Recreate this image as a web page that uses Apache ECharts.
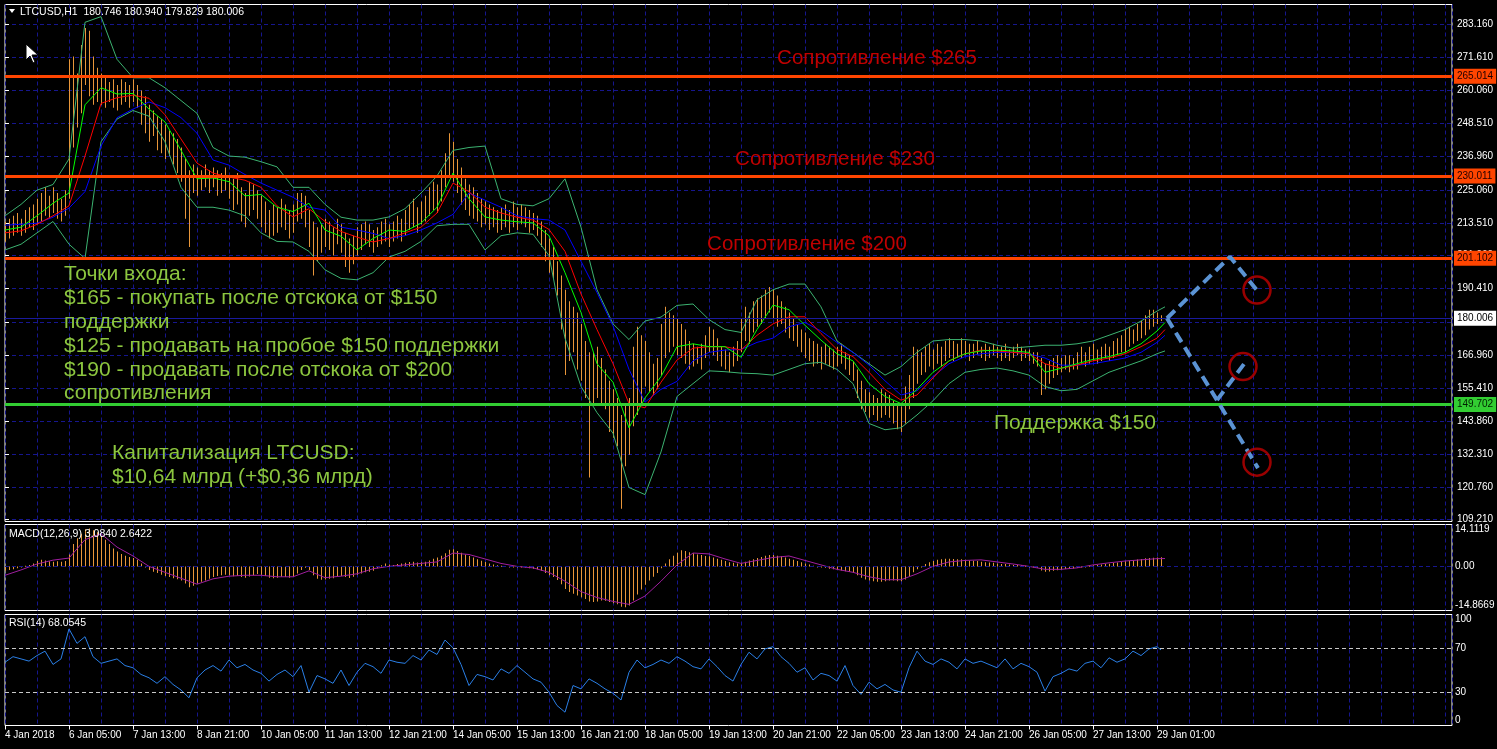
<!DOCTYPE html>
<html><head><meta charset="utf-8">
<script src="https://cdn.jsdelivr.net/npm/echarts@6/dist/echarts.min.js"></script>
<style>html,body{margin:0;padding:0;background:#000;overflow:hidden}#c{width:1497px;height:749px}</style>
</head><body><div id="c"></div>
<script>
// ---------- DATA ----------
const timeLabels = ['4 Jan 2018','6 Jan 05:00','7 Jan 13:00','8 Jan 21:00','10 Jan 05:00','11 Jan 13:00','12 Jan 21:00','14 Jan 05:00','15 Jan 13:00','16 Jan 21:00','18 Jan 05:00','19 Jan 13:00','20 Jan 21:00','22 Jan 05:00','23 Jan 13:00','24 Jan 21:00','26 Jan 05:00','27 Jan 13:00','29 Jan 01:00'];
const priceTicks = [109.21,120.76,132.31,143.86,155.41,166.96,178.51,190.41,201.96,213.51,225.06,236.96,248.51,260.06,271.61,283.16];
const macdTicks = [-14.8669, 0, 14.1119];
const rsiTicks = [0, 30, 70, 100];

// 2-hour price bars [low, high]
const priceBars = [
[207,214],[208,215],[209,216],[210,217],[209,215],[210,218],[212,219],[211,220],[213,222],[214,224],
[216,226],[215,223],[217,226],[215,224],[214,222],[216,225],[222,271],[240,272],[247,266],[252,276],
[262,282],[258,281],[255,272],[256,268],[255,266],[254,265],[256,263],[254,264],[253,262],[255,264],
[256,263],[254,262],[256,264],[254,262],[248,260],[245,258],[242,255],[244,253],[239,251],[238,250],
[236,248],[237,246],[234,245],[231,243],[228,240],[215,236],[205,232],[224,234],[223,233],[225,232],
[226,234],[224,232],[226,233],[223,232],[224,231],[225,233],[222,230],[218,229],[220,231],[214,226],
[212,224],[216,228],[218,227],[215,225],[212,223],[210,221],[208,218],[209,220],[210,219],[212,222],
[211,220],[208,218],[210,220],[214,224],[215,224],[212,223],[205,218],[195,214],[200,212],[203,213],
[205,215],[204,214],[202,212],[206,215],[203,213],[198,210],[196,208],[199,209],[202,212],[204,213],
[206,214],[205,213],[203,211],[205,212],[206,214],[207,215],[205,213],[207,214],[208,216],[207,215],
[209,218],[211,220],[212,222],[210,219],[213,221],[214,223],[216,226],[218,228],[217,227],[221,232],
[226,238],[230,245],[228,242],[224,236],[220,233],[218,229],[216,227],[215,226],[214,224],[212,222],
[213,221],[211,220],[212,219],[210,218],[211,219],[212,220],[210,218],[212,221],[211,219],[213,220],
[212,219],[210,218],[211,217],[209,216],[205,214],[200,211],[196,208],[194,205],[188,200],[176,195],
[160,190],[165,186],[168,184],[162,182],[158,178],[152,172],[124,168],[150,168],[152,170],[150,166],
[148,162],[140,158],[138,155],[135,152],[113,146],[128,150],[132,152],[142,170],[146,177],[150,174],
[156,172],[154,168],[153,164],[155,166],[160,178],[166,184],[168,182],[170,181],[167,180],[166,178],
[164,176],[162,172],[163,171],[164,170],[162,171],[166,174],[168,177],[167,176],[165,173],[163,170],
[162,169],[161,168],[163,170],[165,172],[168,180],[172,184],[171,182],[175,186],[177,187],[178,188],
[180,190],[182,191],[180,190],[177,188],[178,186],[175,184],[173,182],[172,180],[170,178],[168,176],
[166,175],[165,173],[163,172],[164,171],[162,170],[164,171],[163,170],[162,169],[163,170],[164,171],
[162,168],[160,167],[158,165],[152,162],[148,158],[147,155],[145,154],[146,153],[144,152],[145,155],
[146,154],[145,153],[143,151],[141,150],[140,149],[143,156],[148,160],[152,170],[157,169],[160,168],
[161,170],[163,171],[162,169],[164,171],[163,170],[165,172],[166,173],[165,172],[166,171],[166,173],
[167,172],[165,171],[166,171],[167,172],[166,170],[165,171],[166,170],[167,171],[166,170],[165,170],
[166,171],[165,169],[166,170],[167,171],[165,170],[166,169],[165,169],[164,168],[163,168],[153,166],
[155,164],[157,165],[159,166],[160,167],[161,166],[162,167],[161,167],[162,166],[162,168],[164,170],
[163,168],[164,170],[165,171],[164,169],[165,170],[166,171],[165,170],[166,172],[167,173],[168,174],
[168,176],[170,177],[171,176],[172,178],[173,179],[174,181],[176,183],[177,183],[178,182],[179,181]
];

// indicator lines sampled every 8 hours (last point at hour 580)
const maFast = [211,212,216,220.4,224,255,261,258.8,259,253.5,249,239,229,229.3,228,223,223.5,219,217.5,220.4,211,208.8,204,208,211,210.5,213.4,219,231,222,215.6,214.5,213.9,213.5,209,196,182,164,157.5,141.5,152,159.5,170,171,170,170,166.3,176,184.6,183,177.5,172.3,167.5,165,157,152.5,150,155,161,165,167.5,168.5,168.8,168.5,168,161,162.4,164,165.5,166.5,168,171,175.5,178.5];
const maMid = [210,210.7,213,216,219.5,237,255.5,257.5,258.4,257.3,251.5,243,234.5,231,229.6,228.5,226,219.5,215.6,218.5,214,210.5,208.5,206.8,208,210,212,217,227.5,224.5,219,217,215.5,214.5,211.2,203.5,188.5,176,164,150,148.5,157.5,165.3,169.5,170,170,168.8,174,178,180.5,180.5,174.6,169,166.5,161,155,151.2,153,159,165,167.5,168.8,168.5,168,167.5,164,162.4,163.5,165,166,167.5,170,173,176];
const maSlow = [212.7,213,213.4,215.5,218.7,224.5,240.5,250.5,253.5,256,254,250.5,245,235.6,233.8,230.5,227.5,225,222.5,219,218,212,211,209.8,208,209,211,213.5,216.5,224,221.5,219,216,215,214.5,211,200,189,177.3,162,150.5,155,157.8,165,168,168.8,169,171.5,173,177,178.5,175.5,171.5,168,163.5,158,153,154.5,159.5,164,166.5,167.5,168,168,167.5,166,163.5,163.5,164,165,166,168,171.5,174];
const bbUpper = [216,220,225,227,236,284,286,271,264.5,264.5,261,256.5,252,240,237,236.6,235,233.2,226,226,220,215.5,214.5,214.5,215.6,218.5,224,230,239,240,240.5,222,220,219.5,222,229,212,190,178,172.5,179,180.4,184.5,185,179.5,176,175,186.5,190,192,192,184,172,168,164,160,163,168,172,172.5,172.5,172,170.5,169.5,170,170.5,170.5,171,172,174,176,179,182.5,184];
const bbLower = [204,206,210,214,206,201,242,250,253,251,242,226,219,219,218,216,210,207,206.8,203.5,197,194,193.5,196,201.5,203.5,207,212.5,213,213,204,209,210,209.5,202,173,156,146.8,139.6,120.5,118,133,152.5,157,161.5,161.2,160.7,160.5,160,162,164,164.5,162,157,143,140.8,141.5,146,151,157,161,162,162.5,161.5,160,156,154.5,155,158,161,163,165,167.5,168.5];

// MACD histogram every 2 hours, signal every 8 hours
const macdHist = [
-1.5,-1.2,-1,-0.6,-0.3,0.2,0.5,1.0,1.8,2.2,
2.0,1.7,1.6,1.7,1.6,1.8,4.0,7.5,9.5,11,
12.5,12.8,12.2,11.5,10,9,7.5,6,5,4.2,
3.6,3.2,2.8,2.2,1.0,0.0,-1.2,-1.8,-2.2,-2.8,
-3.2,-3.6,-4,-4.3,-4.8,-5.8,-7,-6.5,-5.8,-5.2,
-4.8,-4.2,-3.6,-3.2,-3.0,-2.8,-3.0,-3.3,-3.2,-3.6,
-3.8,-3.4,-3.0,-2.6,-2.8,-3.2,-3.8,-4.0,-3.8,-3.5,
-3.6,-3.8,-3.4,-2.4,-1.2,-0.5,-1.2,-3.0,-4.2,-4.5,
-4.4,-4.2,-4.0,-3.5,-3.2,-3.6,-3.9,-3.5,-2.8,-2.4,
-2.0,-1.8,-1.5,-0.6,0.4,1.0,0.6,0.5,0.8,1.0,
1.2,1.5,1.6,1.3,1.4,1.6,2.0,2.6,3.0,3.6,
4.4,5.6,5.8,5.2,4.6,4.0,3.5,3.0,2.4,1.9,
1.5,1.0,0.6,0.4,0.2,0.1,-0.2,-0.1,-0.3,-0.2,
-0.4,-0.6,-0.8,-1.0,-1.5,-2.2,-3.0,-3.6,-4.6,-6.0,
-7.6,-8.6,-9.2,-9.8,-10.4,-11.0,-11.8,-12.0,-11.8,-11.5,
-11.6,-12.0,-12.4,-12.8,-13.6,-13.8,-13.2,-11.5,-9.5,-7.8,
-6.2,-4.8,-3.5,-2.2,-0.6,1.0,2.4,3.6,4.6,5.4,
5.2,4.8,4.4,4.0,3.8,3.5,3.4,3.0,2.6,2.2,
1.8,1.4,1.2,1.0,1.2,1.6,2.0,2.4,2.8,3.2,
3.6,3.8,3.8,3.6,3.4,3.0,2.6,2.2,1.8,1.4,
1.0,0.6,0.2,0.0,-0.3,-0.5,-0.8,-1.0,-1.2,-1.4,
-1.6,-1.8,-2.2,-3.0,-3.8,-4.4,-4.8,-5.0,-5.2,-5.2,
-5.0,-4.8,-4.8,-5.0,-5.0,-4.4,-3.4,-2.0,-1.0,0.0,
0.8,1.4,1.8,2.2,2.4,2.6,2.6,2.5,2.4,2.4,
2.2,2.0,1.9,1.8,1.6,1.4,1.3,1.2,1.0,0.8,
0.8,0.6,0.5,0.5,0.4,0.2,0.0,-0.2,-0.5,-1.4,
-1.8,-1.7,-1.5,-1.3,-1.1,-0.9,-0.8,-0.7,-0.5,-0.2,
0.0,0.2,0.4,0.5,0.6,0.8,0.9,1.1,1.3,1.5,
1.7,1.9,2.1,2.3,2.5,2.7,2.8,2.9,3.0,3.084
];
const macdSignal = [-3,-1.2,0.8,2.1,2.8,9,11,6.5,3.5,0,-2,-4,-6,-4.2,-3.3,-3,-3,-3.5,-3.5,-1.5,-3.8,-3.3,-2.5,-0.8,0,0.5,1,1.5,4.5,4,2.5,1,0,-0.5,-2,-5,-8.5,-10.5,-11.8,-12.8,-10,-5,0.5,4.5,4.2,2.5,1,2,3,3.5,2,0.5,-1,-2,-3.5,-4.5,-4.5,-2.5,0,1.5,2,2.2,1.5,0.8,0,-1,-1,-0.5,0.5,1.2,1.8,2.2,2.6,2.6422];

// RSI every 4 hours (last point at hour 578)
const rsiValues = [
57,62,60,58,63,67,55,60,87,74,
80,62,56,58,60,54,52,46,43,38,
44,37,32,25,43,50,54,49,59,52,
55,50,47,40,46,50,44,54,30,45,
42,38,50,36,48,56,53,47,59,57,
56,63,59,68,64,77,70,55,36,46,
44,41,51,47,54,48,42,39,30,18,
12,36,33,42,38,33,29,23,48,59,
52,55,59,56,62,58,53,51,60,53,
45,40,55,66,60,69,71,62,56,48,
52,41,47,45,40,54,36,28,39,33,
37,32,30,52,67,58,55,60,57,51,
60,56,58,55,52,60,51,56,53,48,
31,44,47,51,49,56,58,52,61,57,
60,67,63,69,71,68.0545
];

const resistanceLevels = [265.014, 230.011, 201.102];
const supportLevel = 149.702;
const lastPrice = 180.006;
// forecast paths [hour, price]
const forecastUp = [[581,180.0],[612.5,201.6],[626,189.8]];
const forecastDown = [[581,180.0],[606,151.2],[626.5,127.3]];
const forecastBounce = [[606,151.2],[619.5,163.9]];
const targetPoints = [[626,189.9],[619,163.0],[626,129.4]];

// ---------- CHART ----------
const FONT = "'Liberation Sans', Arial, sans-serif";
const GRID = '#16168e';
const DASH = [4, 3];
const BAR = '#e8963a';

const maHours = maFast.map((_, i) => i < maFast.length - 1 ? i * 8 : 580);
const pts = arr => arr.map((v, i) => [maHours[i], v]);
const rsiPts = rsiValues.map((v, i) => [i < rsiValues.length - 1 ? i * 4 : 578, v]);
const tickHours = timeLabels.map((_, i) => i * 32);

function gridCfg(top, height) {
  return {left: 5, top: top, width: 1447, height: height, show: true, borderColor: '#ffffff', borderWidth: 1,
    backgroundColor: 'transparent', containLabel: false, outerBoundsMode: 'none'};
}
function xCfg(i) {
  return {type: 'value', gridIndex: i, min: 0, max: 723.5, interval: 32,
    axisLine: {show: false}, axisTick: {show: false}, axisLabel: {show: false},
    splitLine: {show: true, lineStyle: {color: GRID, type: DASH, width: 1}},
    minorTick: {show: false, splitNumber: 2},
    minorSplitLine: {show: true, lineStyle: {color: GRID, type: DASH, width: 1}}};
}
function tag(value, lineColor, width, bg, fg) {
  return {yAxis: value, lineStyle: {color: lineColor, width: width, type: 'solid'},
    label: {show: true, position: 'end', distance: 2, formatter: value.toFixed(3), backgroundColor: bg,
      color: fg, padding: [3, 3, 2, 3], fontSize: 10, fontFamily: FONT}};
}
function lineSeries(name, data, color, xi, yi, width) {
  return {name: name, type: 'line', xAxisIndex: xi, yAxisIndex: yi, data: data, showSymbol: false, symbol: 'none',
    lineStyle: {color: color, width: width || 1}, silent: true, z: 3};
}

const redNotes = [['Сопротивление $265', 877, 58], ['Сопротивление $230', 835, 159], ['Сопротивление $200', 807, 244]];
const greenNotes = [
  ['Точки входа:', 64, 274], ['$165 - покупать после отскока от $150', 64, 298], ['поддержки', 64, 322],
  ['$125 - продавать на пробое $150 поддержки', 64, 346], ['$190 - продавать после отскока от $200', 64, 370],
  ['сопротивления', 64, 393], ['Капитализация LTCUSD:', 112, 453], ['$10,64 млрд (+$0,36 млрд)', 112, 477]
];

function txt(t, x, y, color, size, align) {
  return {type: 'text', z: 50, silent: true, style: {text: t, x: x, y: y, fill: color, font: size + 'px ' + FONT,
    textAlign: align || 'left', align: align || 'left', textVerticalAlign: 'middle', verticalAlign: 'middle'}};
}

const graphics = [];
redNotes.forEach(n => graphics.push(txt(n[0], n[1], n[2], '#c00000', 20.5, 'center')));
greenNotes.forEach(n => graphics.push(txt(n[0], n[1], n[2], '#8cc63f', 21, 'left')));
graphics.push(txt('Поддержка $150', 1075, 423, '#8cc63f', 21, 'center'));
graphics.push(txt('LTCUSD,H1  180.746 180.940 179.829 180.006', 20, 12, '#ffffff', 10.5, 'left'));
graphics.push(txt('MACD(12,26,9) 3.0840 2.6422', 9, 534, '#ffffff', 10.5, 'left'));
graphics.push(txt('RSI(14) 68.0545', 9, 623, '#ffffff', 10.5, 'left'));
graphics.push({type: 'polygon', z: 50, silent: true, shape: {points: [[9, 9], [15, 9], [12, 13]]}, style: {fill: '#ffffff'}});
graphics.push({type: 'polygon', z: 50, silent: true,
  shape: {points: [[26, 44], [26, 60], [30, 56], [33, 63], [35, 62], [32, 55], [38, 55]]},
  style: {fill: '#ffffff', stroke: '#000000', lineWidth: 1}});

const option = {
  backgroundColor: '#000000',
  animation: false,
  textStyle: {fontFamily: FONT},
  grid: [gridCfg(4.5, 517), gridCfg(524.5, 86), gridCfg(614.5, 111)],
  xAxis: [xCfg(0), xCfg(1), xCfg(2), {
    type: 'value', gridIndex: 2, min: 0, max: 723.5, position: 'bottom',
    axisLine: {show: false},
    axisTick: {show: true, customValues: tickHours, length: 4, lineStyle: {color: '#ffffff'}},
    axisLabel: {show: true, customValues: tickHours, formatter: v => timeLabels[Math.round(v / 32)] || '',
      color: '#ffffff', fontSize: 10, fontFamily: FONT, align: 'left', margin: 5},
    splitLine: {show: false}
  }],
  yAxis: [
    {type: 'value', gridIndex: 0, position: 'right', min: 108.55, max: 290.26,
      axisLine: {show: false},
      axisTick: {show: true, customValues: priceTicks, length: 4, lineStyle: {color: '#ffffff'}},
      axisLabel: {customValues: priceTicks, formatter: v => v.toFixed(3), color: '#ffffff', fontSize: 10, fontFamily: FONT, margin: 5},
      splitLine: {show: true, lineStyle: {color: GRID, type: DASH}}},
    {type: 'value', gridIndex: 1, position: 'right', min: -14.8669, max: 14.1119,
      axisLine: {show: false},
      axisTick: {show: true, customValues: macdTicks, length: 4, lineStyle: {color: '#ffffff'}},
      axisLabel: {customValues: macdTicks, formatter: v => (Math.abs(v) < 1e-9 ? '0.00' : v.toFixed(4)),
        color: '#ffffff', fontSize: 10, fontFamily: FONT, margin: 3,
        verticalAlignMaxLabel: 'top', verticalAlignMinLabel: 'bottom'},
      splitLine: {show: false}},
    {type: 'value', gridIndex: 2, position: 'right', min: 0, max: 100,
      axisLine: {show: false},
      axisTick: {show: true, customValues: rsiTicks, length: 4, lineStyle: {color: '#ffffff'}},
      axisLabel: {customValues: rsiTicks, formatter: v => String(v), color: '#ffffff', fontSize: 10, fontFamily: FONT, margin: 3,
        verticalAlignMaxLabel: 'top', verticalAlignMinLabel: 'bottom'},
      splitLine: {show: false}}
  ],
  graphic: graphics,
  series: [
    {name: 'bars', type: 'custom', xAxisIndex: 0, yAxisIndex: 0, silent: true, z: 2,
      data: priceBars.map((b, k) => [k * 2, b[0], b[1]]),
      encode: {x: 0, y: [1, 2]},
      renderItem: function (params, api) {
        const h = api.value(0), lo = api.value(1), hi = api.value(2);
        const top = api.coord([h, hi]), bot = api.coord([h, lo]);
        return {type: 'rect', shape: {x: Math.round(top[0]), y: top[1], width: 1, height: Math.max(1, bot[1] - top[1])},
          style: {fill: BAR}};
      }},
    lineSeries('bbUpper', pts(bbUpper), '#3cb371', 0, 0),
    lineSeries('bbLower', pts(bbLower), '#3cb371', 0, 0),
    lineSeries('maSlow', pts(maSlow), '#0000ff', 0, 0),
    lineSeries('maMid', pts(maMid), '#ff0000', 0, 0),
    lineSeries('maFast', pts(maFast), '#00ff00', 0, 0),
    {name: 'levels', type: 'line', xAxisIndex: 0, yAxisIndex: 0, data: [], silent: true, z: 4,
      markLine: {silent: true, symbol: ['none', 'none'], animation: false,
        data: [
          tag(lastPrice, '#1a1a9e', 1, '#ffffff', '#000000'),
          tag(resistanceLevels[0], '#ff4500', 3, '#ff4500', '#200000'),
          tag(resistanceLevels[1], '#ff4500', 3, '#ff4500', '#200000'),
          tag(resistanceLevels[2], '#ff4500', 3, '#ff4500', '#200000'),
          tag(supportLevel, '#32cd32', 3, '#32cd32', '#002000')
        ]}},
    {name: 'fUp', type: 'line', xAxisIndex: 0, yAxisIndex: 0, data: forecastUp, symbol: 'none', silent: true, z: 5,
      lineStyle: {color: '#5b93d3', width: 4, type: [11, 6]}},
    {name: 'fDown', type: 'line', xAxisIndex: 0, yAxisIndex: 0, data: forecastDown, symbol: 'none', silent: true, z: 5,
      lineStyle: {color: '#5b93d3', width: 4, type: [11, 6]}},
    {name: 'fBounce', type: 'line', xAxisIndex: 0, yAxisIndex: 0, data: forecastBounce, symbol: 'none', silent: true, z: 5,
      lineStyle: {color: '#5b93d3', width: 4, type: [11, 6]}},
    {name: 'targets', type: 'scatter', xAxisIndex: 0, yAxisIndex: 0, data: targetPoints, symbol: 'circle', symbolSize: 27,
      silent: true, z: 6, itemStyle: {color: 'rgba(0,0,0,0)', borderColor: '#c00000', borderWidth: 2.5}},
    {name: 'macdHist', type: 'custom', xAxisIndex: 1, yAxisIndex: 1, silent: true, z: 2,
      data: macdHist.map((v, k) => [k * 2, v]),
      encode: {x: 0, y: 1},
      renderItem: function (params, api) {
        const h = api.value(0), v = api.value(1);
        const p = api.coord([h, v]), z0 = api.coord([h, 0]);
        const y0 = Math.min(p[1], z0[1]), hh = Math.max(1, Math.abs(p[1] - z0[1]));
        return {type: 'rect', shape: {x: Math.round(p[0]), y: y0, width: 1, height: hh}, style: {fill: BAR}};
      },
      markLine: {silent: true, symbol: ['none', 'none'], label: {show: false},
        lineStyle: {color: GRID, type: DASH, width: 1}, data: [{yAxis: 0}]}},
    lineSeries('macdSignal', pts(macdSignal), '#a01ea0', 1, 1),
    {name: 'rsi', type: 'line', xAxisIndex: 2, yAxisIndex: 2, data: rsiPts, symbol: 'none', silent: true, z: 3,
      lineStyle: {color: '#2a7fe6', width: 1},
      markLine: {silent: true, symbol: ['none', 'none'], label: {show: false},
        lineStyle: {color: '#c8c8c8', type: [4, 3], width: 1},
        data: [{yAxis: 70}, {yAxis: 30}]}}
  ]
};

const chart = echarts.init(document.getElementById('c'), null, {renderer: 'canvas', width: 1497, height: 749});
chart.setOption(option);
</script>
</body></html>
